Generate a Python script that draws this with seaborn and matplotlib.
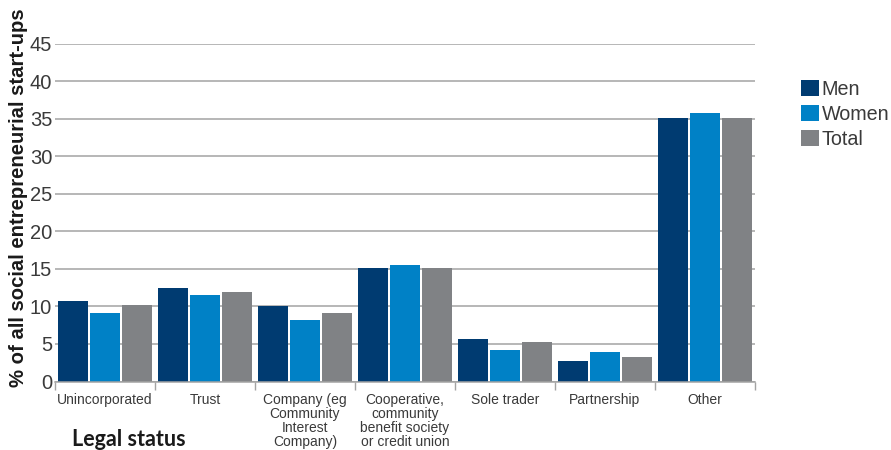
import matplotlib
matplotlib.use("Agg")
import matplotlib.pyplot as plt
import seaborn as sns
import pandas as pd
from matplotlib.patches import Patch

categories = [
    "Unincorporated",
    "Trust",
    "Company (eg\nCommunity\nInterest\nCompany)",
    "Cooperative,\ncommunity\nbenefit society\nor credit union",
    "Sole trader",
    "Partnership",
    "Other",
]
men = [10.7, 12.45, 10.05, 15.1, 5.65, 2.75, 35.1]
women = [9.1, 11.5, 8.2, 15.5, 4.2, 3.95, 35.75]
total = [10.2, 11.9, 9.1, 15.1, 5.25, 3.25, 35.1]
series = ["Men", "Women", "Total"]
colors = ["#003b71", "#0081c6", "#808285"]
yticks = [0, 5, 10, 15, 20, 25, 30, 35, 40, 45]

df = pd.DataFrame({
    "Legal status": categories * 3,
    "Group": [s for s in series for _ in categories],
    "Value": men + women + total,
})

sns.set_theme(style="white")
plt.rcParams["font.family"] = ["Liberation Sans", "DejaVu Sans"]

fig = plt.figure(figsize=(8.91, 4.5), dpi=100)
ax = fig.add_axes([55 / 891, 1 - 381.5 / 450, 700 / 891, (381.5 - 43.5) / 450])

sns.barplot(data=df, x="Legal status", y="Value", hue="Group",
            hue_order=series, palette=colors, order=categories,
            width=0.96, gap=0.09, saturation=1, legend=False, ax=ax,
            edgecolor="none", linewidth=0)

ax.set_xlim(-0.5, len(categories) - 0.5)
ax.set_ylim(0, 45)
ax.set_yticks(yticks)
ax.set_yticklabels([str(v) for v in yticks], fontsize=14.5, color="#3a3a3a")
ax.yaxis.grid(True, color="#a3a3a3", linewidth=1.1)
ax.set_axisbelow(True)
for s in ["top", "right", "left"]:
    ax.spines[s].set_visible(False)
ax.spines["bottom"].set_color("#a3a3a3")
ax.spines["bottom"].set_linewidth(1.1)
ax.tick_params(axis="y", length=0, pad=2)

ax.set_xticks(range(len(categories)))
ax.set_xticklabels(categories, fontsize=10, color="#3a3a3a", linespacing=1.0)
ax.tick_params(axis="x", length=0, pad=8)
ax.set_xticks([i - 0.5 for i in range(len(categories) + 1)], minor=True)
ax.tick_params(axis="x", which="minor", length=6, width=1, color="#a3a3a3", bottom=True)

ax.set_xlabel("")
ax.set_ylabel("% of all social entrepreneurial start-ups", fontsize=14.6,
              fontweight="bold", color="#1a1a1a", labelpad=0)
ax.yaxis.set_label_coords(-0.0386, 0.543)

fig.text(72 / 891, 1 - 440 / 450, "Legal status", fontsize=15.5, fontweight="bold",
         color="#1a1a1a", va="center", ha="left", family=["Lato", "DejaVu Sans"])

handles = [Patch(facecolor=c, edgecolor="none", label=s) for s, c in zip(series, colors)]
leg = fig.legend(handles=handles, loc="upper left", bbox_to_anchor=(801 / 891, 1 - 80 / 450),
                 frameon=False, fontsize=14.2, handlelength=0.9, handleheight=0.9,
                 handletextpad=0.15, labelspacing=0.3, borderaxespad=0, borderpad=0)
for t in leg.get_texts():
    t.set_color("#3a3a3a")

fig.savefig("out.png", dpi=100)
